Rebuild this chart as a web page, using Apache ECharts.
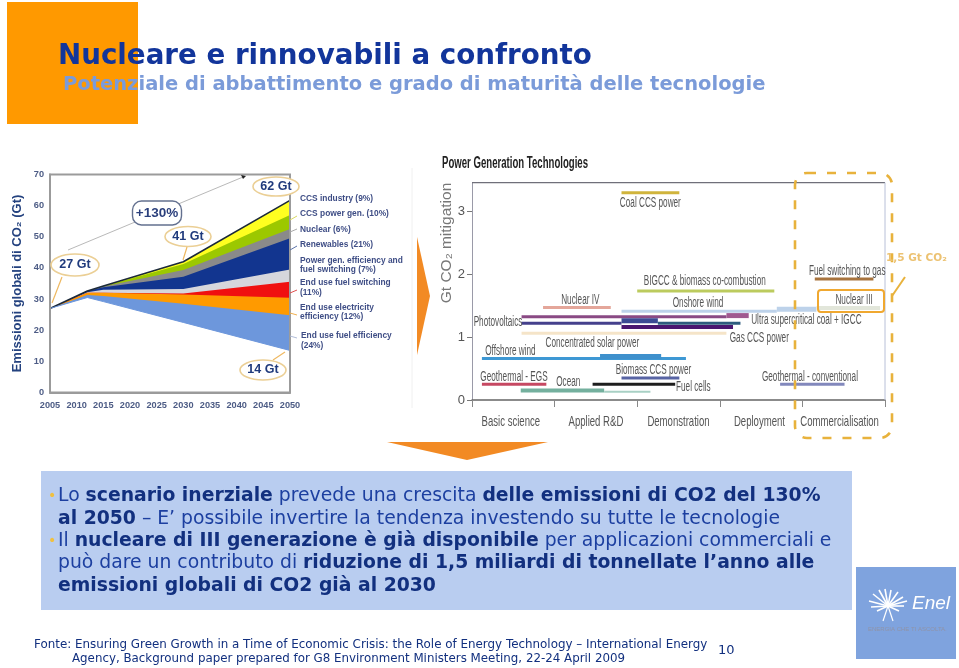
<!DOCTYPE html>
<html><head><meta charset="utf-8">
<style>html,body{margin:0;padding:0;background:#fff}#c{width:959px;height:668px}</style>
<script src="https://cdn.jsdelivr.net/npm/echarts@6/dist/echarts.min.js"></script>
</head><body><div id="c"></div>
<script>
// ---------- left chart data (Gt CO2) ----------
const years = [2005, 2012, 2015, 2030, 2050];
const baseEmissions = [27, 30.5, 29.2, 22.5, 13.5];
const fuelEfficiency = [0, 0.8, 1.8, 6.0, 11.3];
const electricityEfficiency = [0, 0.7, 1.0, 3.0, 5.6];
const fuelSwitching = [0, 0, 0, 0.3, 5.2];
const powerGenEfficiency = [0, 0.2, 1.0, 1.4, 3.9];
const renewables = [0, 0.4, 0.8, 4.0, 10.0];
const nuclear = [0, 0, 0.2, 2.1, 3.0];
const ccsPower = [0, 0, 0.1, 2.0, 4.5];
const ccsIndustry = [0, 0, 0.1, 0.7, 4.7];
const bandNames = ['End use fuel efficiency','End use electricity efficiency','End use fuel switching','Power gen. efficiency and fuel switching','Renewables','Nuclear','CCS power gen.','CCS industry'];
const bandValues = [fuelEfficiency, electricityEfficiency, fuelSwitching, powerGenEfficiency, renewables, nuclear, ccsPower, ccsIndustry];
const bandColors = ['#6d97dc','#ff9a00','#f01010','#d6d6dc','#12358f','#8a8a8a','#9cc800','#ffff20'];

// ---------- right chart data ----------
const stages = ['Basic science','Applied R&D','Demonstration','Deployment','Commercialisation'];
const stageLabelX = [0.47,1.50,2.50,3.48,4.45];
const segStart = [1.81,0.86,2.00,1.81,3.69,4.17,0.60,3.08,0.60,1.81,2.25,1.81,0.60,0.12,1.55,0.12,0.59,1.60,1.46,1.81,3.73,4.15];
const segEnd   = [2.51,1.68,3.66,3.69,4.17,4.94,3.08,3.35,1.81,2.25,3.25,3.16,3.08,2.59,2.29,0.90,1.60,2.16,2.46,2.51,4.51,4.86];
const segLevel = [3.29,1.47,1.73,1.41,1.44,1.46,1.32,1.34,1.22,1.26,1.22,1.16,1.06,0.66,0.69,0.25,0.15,0.13,0.25,0.35,0.25,1.92];
const segColors = ['#d0b43c','#e4a69a','#bccb5e','#bdd2ea','#bdd2ea','#e2e6da','#8a4a84','#a05a90','#45408c','#3c4a94','#2e5c7e','#4a1670','#f5e4c8','#3e98d4','#3e90cc','#c64862','#74b09e','#a8d0c4','#1e1e1e','#5864a4','#8288bc','#a8743e'];
const segThick = [3,3,3,3,5,4,3,5,3,5,3,4,3,3,5,3,4,2,3,3,3,3];
const techNames = ['Coal CCS power','Nuclear IV','BIGCC & biomass co-combustion','Onshore wind','Photovoltaics','Ultra supercritical coal + IGCC','Gas CCS power','Concentrated solar power','Offshore wind','Geothermal - EGS','Ocean','Biomass CCS power','Fuel cells','Geothermal - conventional','Fuel switching to gas','Nuclear III'];
const techLabelX = [1.79,1.08,2.08,2.43,0.02,3.38,3.12,0.89,0.16,0.10,1.02,1.74,2.47,3.51,4.08,4.40];
const techLabelY = [3.12,1.58,1.89,1.53,1.24,1.27,0.98,0.91,0.78,0.37,0.29,0.48,0.20,0.37,2.05,1.58];

// ---------- texts ----------
const titleText = 'Nucleare e rinnovabili a confronto';
const subtitleText = 'Potenziale di abbattimento e grado di maturità delle tecnologie';
const bulletLines = [
  '{r|Lo }{b|scenario inerziale}{r| prevede una crescita }{b|delle emissioni di CO2 del 130%}',
  '{b|al 2050}{r| – E’ possibile invertire la tendenza investendo su tutte le tecnologie}',
  '{r|Il }{b|nucleare di III generazione è già disponibile}{r| per applicazioni commerciali e}',
  '{r|può dare un contributo di }{b|riduzione di 1,5 miliardi di tonnellate l’anno alle}',
  '{b|emissioni globali di CO2 già al 2030}'
];
const sourceLines = ['Fonte: Ensuring Green Growth in a Time of Economic Crisis: the Role of Energy Technology – International Energy','Agency, Background paper prepared for G8 Environment Ministers Meeting, 22-24 April 2009'];
const wedgeLabels = ['CCS industry (9%)','CCS power gen. (10%)','Nuclear (6%)','Renewables (21%)','Power gen. efficiency and','fuel switching (7%)','End use fuel switching','(11%)','End use electricity','efficiency (12%)','End use fuel efficiency','(24%)'];

// ---------- helpers ----------
const SANS = '"DejaVu Sans",sans-serif';
const LIB = '"Liberation Sans",sans-serif';
const chart = echarts.init(document.getElementById('c'), null, {renderer:'canvas'});
function txt(x,y,text,o){o=o||{};return {type:'text',x:x,y:y,z:o.z||50,rotation:o.rot||0,scaleX:o.sx||1,
  style:{text:text,fill:o.color||'#12359b',font:o.font,align:o.align||'left',verticalAlign:'middle',rich:o.rich}};}
function line(a,b,c,d,color,w,z){return {type:'line',z:z||40,shape:{x1:a,y1:b,x2:c,y2:d},style:{stroke:color,lineWidth:w||1}};}
function ell(cx,cy,rx,ry){return {type:'ellipse',z:41,shape:{cx:cx,cy:cy,rx:rx,ry:ry},style:{fill:'#fff',stroke:'#ebcf95',lineWidth:1.6}};}

const g = [];
g.push({type:'rect',z:1,shape:{x:7,y:2,width:131,height:122},style:{fill:'#ff9900'}});
g.push(txt(58,57,titleText,{font:'bold 28px '+SANS,color:'#12359b',sx:0.99}));
g.push(txt(63,85,subtitleText,{font:'bold 20px '+SANS,color:'#7b9bd9',sx:0.975}));
g.push(line(412,168,412,408,'#f0f0f0',1,1));
g.push({type:'polygon',z:5,shape:{points:[[417,237],[430,296],[417,355]]},style:{fill:'#f28a24'}});
g.push({type:'polygon',z:5,shape:{points:[[387,442],[548,442],[467,460]]},style:{fill:'#f28a24'}});
g.push({type:'rect',z:1,shape:{x:41,y:471,width:811,height:139},style:{fill:'#b9cdf0'}});
const rich={r:{font:'18.8px '+SANS,fill:'#1c3fa0'},b:{font:'bold 18.8px '+SANS,fill:'#12307f'}};
[496,519,541,563,586].forEach((y,i)=>g.push(txt(58,y,bulletLines[i],{rich:rich})));
g.push(txt(48,496,'•',{font:'14px '+SANS,color:'#f0c040'}));
g.push(txt(48,541,'•',{font:'14px '+SANS,color:'#f0c040'}));
g.push(txt(34,645,sourceLines[0],{font:'11.9px '+SANS,color:'#12307f'}));
g.push(txt(72,659,sourceLines[1],{font:'11.85px '+SANS,color:'#12307f'}));
g.push(txt(718,651,'10',{font:'13px '+SANS,color:'#12307f'}));
// logo
g.push({type:'rect',z:1,shape:{x:856,y:567,width:100,height:92},style:{fill:'#7fa3de'}});
[[869,601],[873,594],[879,590],[885,589],[891,590],[898,592],[903,597],[907,601],[871,607],[904,606],[877,611],[899,611]].forEach(p=>{
  g.push(line(888,606,p[0],p[1],'#ffffff',1.6,45));});
g.push(line(888,606,883,621,'#ffffff',1.2,45));
g.push(line(888,606,893,621,'#ffffff',1.2,45));
g.push(txt(912,604,'Enel',{font:'italic 19px '+LIB,color:'#fff'}));
g.push(txt(868,629,'ENERGIA CHE TI ASCOLTA.',{font:'6px '+LIB,color:'#8f93a8'}));

// left chart annotations
g.push(line(68,250,243,177,'#b9b9b9',1,30));
g.push({type:'polygon',z:31,shape:{points:[[246,176],[241,175],[243,179]]},style:{fill:'#222'}});
g.push({type:'rect',z:41,shape:{x:132.5,y:201,width:49,height:24,r:9},style:{fill:'#fff',stroke:'#63708f',lineWidth:1.4}});
g.push(txt(157,213.5,'+130%',{font:'bold 13.5px '+LIB,color:'#2a3f7c',align:'center'}));
[[276,186.5,23,9.5,'62 Gt'],[188,236.5,23,10,'41 Gt'],[75,265,24,11,'27 Gt'],[263,370,23,10,'14 Gt']].forEach(e=>{
  g.push(ell(e[0],e[1],e[2],e[3]));
  g.push(txt(e[0],e[1],e[4],{font:'bold 12.5px '+LIB,color:'#1f3a7c',align:'center'}));
});
g.push(line(62,277,52,303,'#eeb860',1.2,42));
g.push(line(187,247,183,260,'#eeb860',1.2,42));
g.push(line(273,360,285,352,'#eeb860',1.2,42));
[199,214,229.5,245,260.5,270,283,293,308,317,336,346].forEach((y,i)=>
  g.push(txt(i>9?301:300,y,wedgeLabels[i],{font:'bold 8.4px '+LIB,color:'#3e4d85'})));
g.push(line(290,220,297,216,'#d8d860',1,42));
g.push(line(290,232,297,229,'#aaaaaa',1,42));
g.push(line(290,250,297,246,'#5a72a8',1,42));
g.push(line(290,293,297,290,'#e05050',1,42));
g.push(line(290,313,297,315,'#f0b050',1,42));
g.push(line(290,336,297,338,'#b0bcd8',1,42));

// right chart annotations
g.push(txt(442,164,'Power Generation Technologies',{font:'bold 16px '+LIB,color:'#222',sx:0.6}));
g.push(txt(447,243,'Gt CO₂ mitigation',{font:'15.5px '+LIB,color:'#777',align:'center',rot:Math.PI/2}));
g.push({type:'rect',z:60,shape:{x:795,y:173,width:97,height:265,r:12},style:{fill:'none',stroke:'#e8b23c',lineWidth:2.6,lineDash:[9,11]}});
g.push({type:'rect',z:60,shape:{x:818,y:290,width:66,height:22,r:3},style:{fill:'none',stroke:'#f0a830',lineWidth:2}});
g.push(line(905,277,892,296,'#e8b23c',2,60));
g.push(txt(886,258,'1,5 Gt CO₂',{font:'bold 10.5px '+SANS,color:'#ecc272',z:61}));

// bands are painted top-down from their cumulative upper edges, the white base last
const bandTops = [];
bandValues.forEach((v,k)=>bandTops.push(v.map((d,i)=>d+(k?bandTops[k-1][i]:baseEmissions[i]))));
const bandSeries = [];
for(let k=bandValues.length-1;k>=0;k--){
  bandSeries.push({type:'line',name:bandNames[k],xAxisIndex:0,yAxisIndex:0,showSymbol:false,silent:true,z:2,
    data:years.map((y,i)=>[y,bandTops[k][i]]),
    lineStyle:k===7?{width:1.6,color:'#1c2a3a'}:{width:0},
    areaStyle:{color:bandColors[k],opacity:1,origin:'start'}});
}
bandSeries.push({type:'line',name:'Emissions after reductions',xAxisIndex:0,yAxisIndex:0,showSymbol:false,silent:true,z:2,
  data:years.map((y,i)=>[y,baseEmissions[i]]),lineStyle:{width:1,color:'#6d97dc'},areaStyle:{color:'#ffffff',opacity:1,origin:'start'}});

const axisFont={fontWeight:'bold',fontSize:9.2,fontFamily:'"Liberation Sans",sans-serif',color:'#4d5c85'};
chart.setOption({
  animation:false,
  backgroundColor:'#fff',
  textStyle:{fontFamily:'"Liberation Sans",sans-serif'},
  grid:[
    {left:50,top:174.5,width:240,height:218,show:true,z:6,borderColor:'#9b9b9b',borderWidth:2,backgroundColor:'transparent'},
    {left:472,top:182.7,width:413,height:217.3,show:false}
  ],
  xAxis:[
    {gridIndex:0,type:'value',min:2005,max:2050,interval:5,z:7,splitLine:{show:false},axisTick:{show:false},
     axisLine:{lineStyle:{color:'#9b9b9b',width:2}},
     axisLabel:Object.assign({margin:8,formatter:v=>String(v),hideOverlap:false},axisFont)},
    {gridIndex:1,type:'category',data:stages,boundaryGap:true,position:'bottom',
     axisLine:{lineStyle:{color:'#666',width:1.5}},axisTick:{show:true,interval:0,length:7,lineStyle:{color:'#888'}},
     axisLabel:{show:false}},
    {gridIndex:1,type:'value',min:0,max:5,show:false}
  ],
  yAxis:[
    {gridIndex:0,type:'value',min:0,max:70,interval:10,z:7,splitLine:{show:false},axisTick:{show:false},
     axisLine:{show:true,lineStyle:{color:'#9b9b9b',width:2}},
     name:'Emissioni globali di CO₂ (Gt)',nameLocation:'middle',nameGap:26,
     nameTextStyle:{fontWeight:'bold',fontSize:13,fontFamily:'"Liberation Sans",sans-serif',color:'#24427f'},
     axisLabel:Object.assign({margin:6},axisFont)},
    {gridIndex:1,type:'value',min:0,max:3.45,interval:1,splitLine:{show:false},
     axisLine:{show:true,lineStyle:{color:'#9a9aa8',width:1}},axisTick:{show:true,length:5,lineStyle:{color:'#777'}},
     axisLabel:{margin:7,showMaxLabel:false,fontSize:13,fontFamily:'"Liberation Sans",sans-serif',color:'#555'}},
  ],
  series:bandSeries.concat([
    {type:'custom',name:'Technology ranges',xAxisIndex:2,yAxisIndex:1,silent:true,z:5,clip:false,
     data:segLevel.map((l,i)=>[segStart[i],segEnd[i],l,i]),
     encode:{x:[0,1],y:2},
     renderItem:(p,api)=>{
       const a=api.coord([api.value(0),api.value(2)]),b=api.coord([api.value(1),api.value(2)]),i=api.value(3),t=segThick[i];
       return {type:'rect',shape:{x:a[0],y:a[1]-t/2,width:b[0]-a[0],height:t},style:{fill:segColors[i]}};
     }},
    {type:'custom',name:'Technology labels',xAxisIndex:2,yAxisIndex:1,silent:true,z:6,clip:false,
     data:techNames.map((n,i)=>[techLabelX[i],techLabelY[i]]),
     encode:{x:0,y:1},
     renderItem:(p,api)=>{
       const a=api.coord([api.value(0),api.value(1)]);
       return {type:'text',x:a[0],y:a[1],scaleX:0.585,style:{text:techNames[p.dataIndex],font:'14px '+LIB,fill:'#555',verticalAlign:'middle',align:'left'}};
     }},
    {type:'custom',name:'Stage labels',xAxisIndex:2,yAxisIndex:1,silent:true,z:6,clip:false,
     data:stages.map((n,i)=>[stageLabelX[i],0]),
     encode:{x:0,y:1},
     renderItem:(p,api)=>{
       const a=api.coord([api.value(0),api.value(1)]);
       return {type:'text',x:a[0],y:a[1]+22,scaleX:0.66,style:{text:stages[p.dataIndex],font:'14.5px '+LIB,fill:'#555',verticalAlign:'middle',align:'center'}};
     }}
    ]),
  graphic:g.concat([
    line(472,182.7,885,182.7,'#6f6f7a',1.3,4),
    line(885,182.7,885,400,'#b8c0d8',1,4)
  ])
});
</script></body></html>
